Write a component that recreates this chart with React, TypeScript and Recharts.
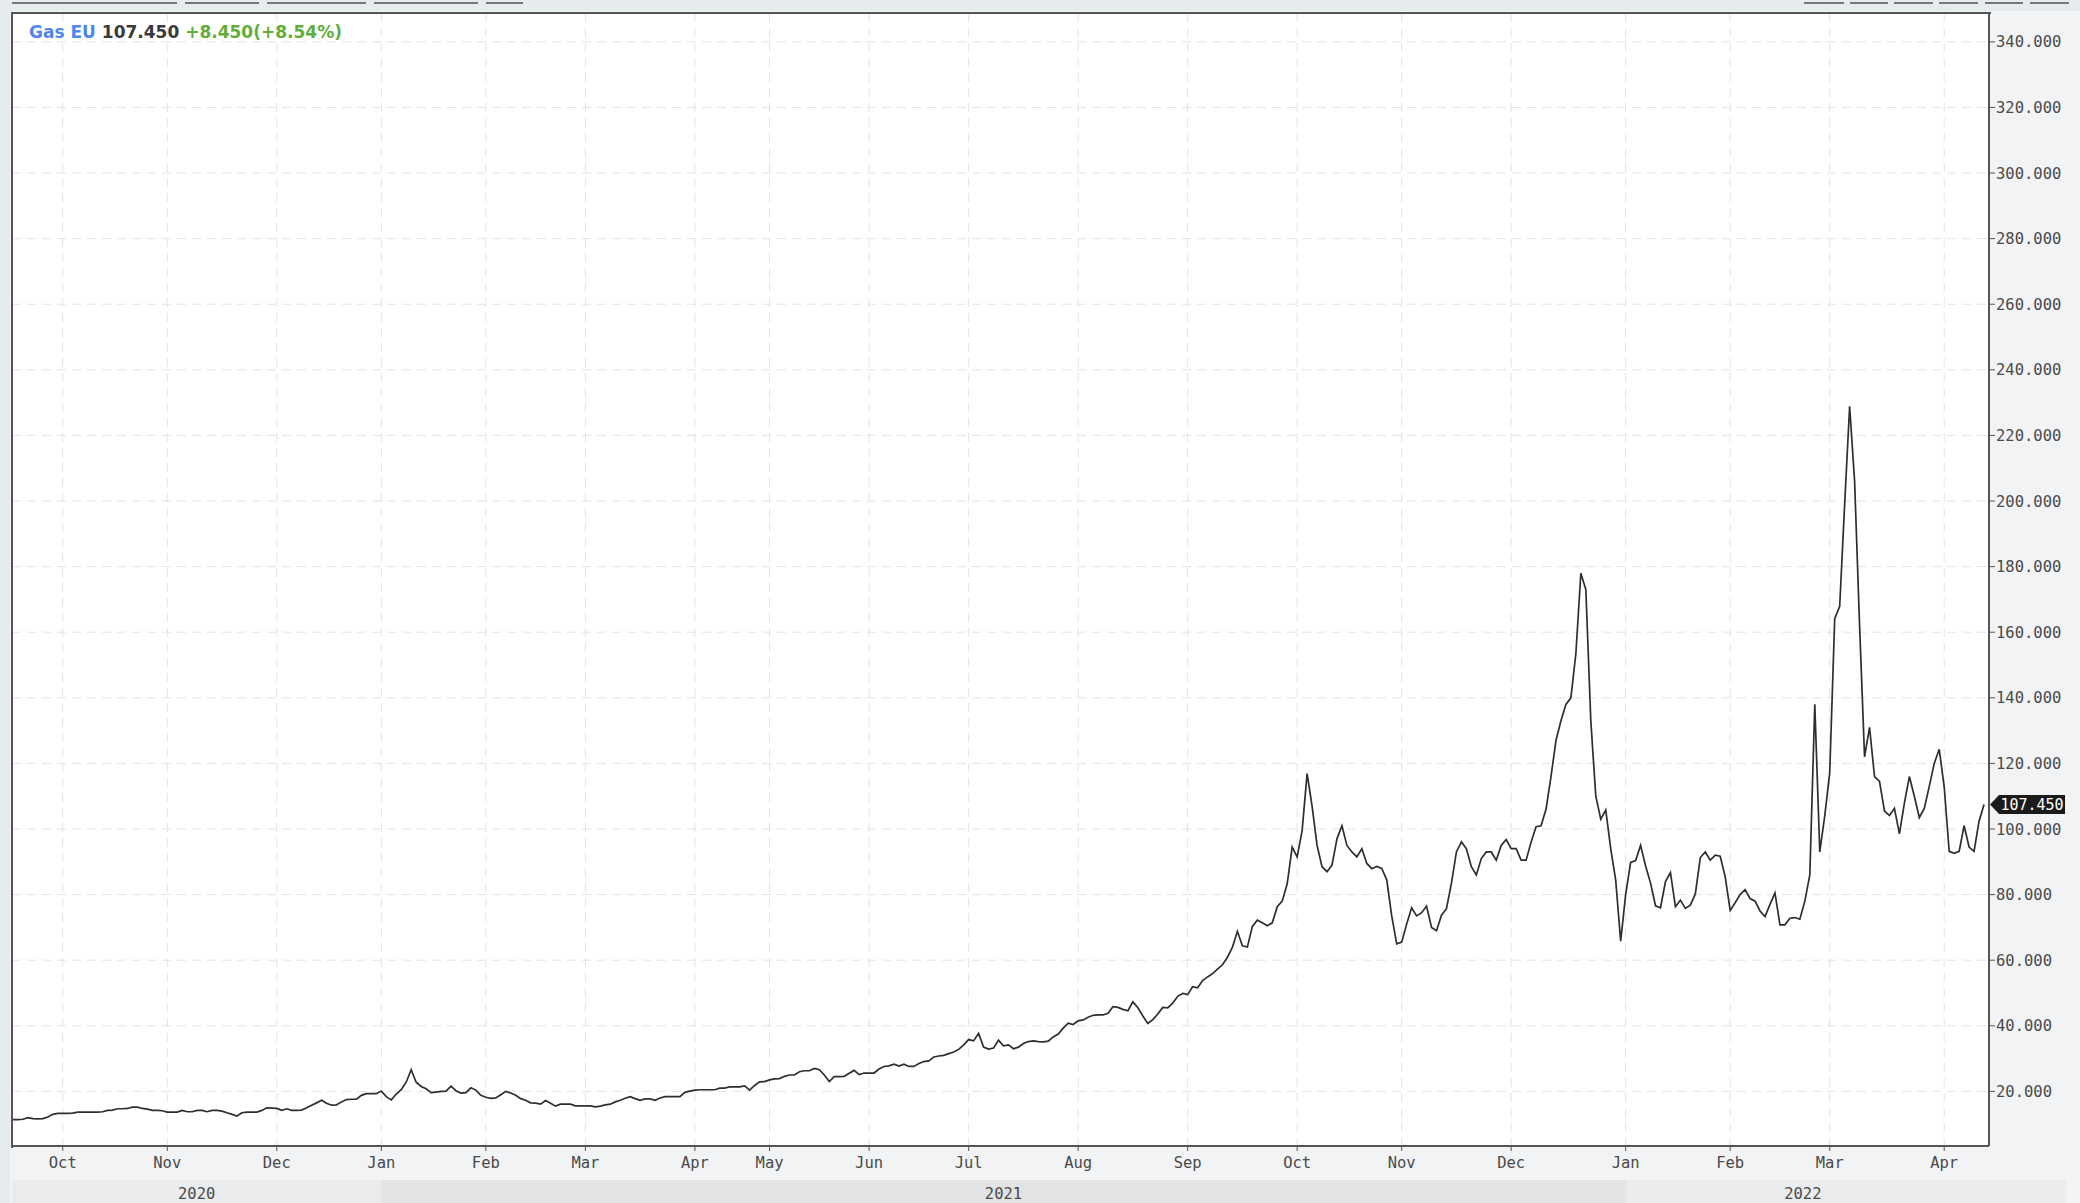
import React from "react";
import { LineChart, Line, XAxis, YAxis, CartesianGrid, ReferenceDot } from "recharts";

// Gas EU daily closes, one value per trading day, grouped by month
const sep2020 = [11.4, 11.4, 11.5, 12.0, 11.7, 11.6, 11.7, 12.2, 13.0, 13.3];
const oct2020 = [13.3, 13.3, 13.4, 13.7, 13.7, 13.7, 13.7, 13.7, 13.8, 14.2, 14.3, 14.7, 14.7, 14.8, 15.2, 15.2, 14.8, 14.6, 14.2, 14.2, 14.1];
const nov2020 = [13.7, 13.7, 13.7, 14.2, 13.8, 13.8, 14.2, 14.2, 13.8, 14.2, 14.2, 14.0, 13.5, 13.0, 12.5, 13.5, 13.7, 13.7, 13.7, 14.2, 15.0, 14.9];
const dec2020 = [14.8, 14.2, 14.7, 14.2, 14.2, 14.3, 15.0, 15.8, 16.5, 17.3, 16.4, 15.8, 15.9, 16.8, 17.5, 17.6, 17.6, 18.8, 19.3, 19.3, 19.3];
const jan2021 = [20.1, 18.4, 17.4, 19.2, 20.5, 22.8, 26.6, 22.8, 21.5, 20.8, 19.6, 19.8, 20.0, 20.1, 21.6, 20.2, 19.5, 19.6, 21.1, 20.4, 18.8];
const feb2021 = [18.2, 17.9, 18.0, 19.0, 20.0, 19.5, 18.8, 17.8, 17.3, 16.5, 16.4, 16.1, 17.2, 16.4, 15.5, 16.1, 16.1, 16.1, 15.6, 15.6];
const mar2021 = [15.6, 15.6, 15.3, 15.5, 15.9, 16.1, 16.8, 17.3, 17.9, 18.4, 17.8, 17.3, 17.7, 17.7, 17.3, 18.0, 18.4, 18.4, 18.4, 18.4, 19.7, 20.1];
const apr2021 = [20.4, 20.5, 20.5, 20.5, 20.5, 21.0, 21.0, 21.4, 21.4, 21.4, 21.7, 20.4, 21.8, 22.9, 23.0];
const may2021 = [23.5, 23.8, 23.9, 24.6, 25.0, 25.0, 26.0, 26.3, 26.3, 27.0, 26.6, 25.0, 23.0, 24.5, 24.5, 24.6, 25.5, 26.4, 25.1, 25.6];
const jun2021 = [25.6, 25.6, 26.8, 27.6, 27.8, 28.3, 27.7, 28.3, 27.6, 27.6, 28.5, 29.1, 29.3, 30.5, 30.8, 31.0, 31.5, 32.0, 32.8, 34.2];
const jul2021 = [35.8, 35.4, 37.7, 33.5, 32.9, 33.2, 35.6, 33.9, 34.2, 33.0, 33.5, 34.6, 35.2, 35.4, 35.2, 35.1, 35.3, 36.6, 37.5, 39.3, 40.8, 40.4];
const aug2021 = [41.5, 41.8, 42.6, 43.2, 43.3, 43.3, 43.8, 45.8, 45.6, 45.0, 44.6, 47.3, 45.5, 43.0, 40.7, 41.9, 43.6, 45.6, 45.5, 46.9, 49.0, 49.9];
const sep2021 = [49.5, 51.9, 51.6, 53.8, 54.9, 55.9, 57.3, 58.6, 60.9, 64.0, 68.8, 64.4, 64.0, 70.3, 72.2, 71.4, 70.5, 71.4, 76.3, 78.0, 83.3, 94.5];
const oct2021 = [91.5, 99.5, 116.9, 107.0, 95.0, 88.5, 87.0, 89.0, 97.0, 101.0, 95.0, 93.0, 91.5, 94.0, 89.5, 87.9, 88.6, 88.0, 84.5, 73.5, 65.0];
const nov2021 = [65.5, 71.0, 76.0, 73.5, 74.5, 76.5, 70.0, 69.0, 73.7, 75.7, 83.5, 93.0, 96.1, 94.0, 88.5, 86.0, 91.0, 93.0, 93.0, 90.5, 95.0, 96.8];
const dec2021 = [94.0, 94.0, 90.5, 90.5, 96.0, 100.7, 101.0, 106.0, 116.0, 127.0, 133.0, 138.0, 140.0, 153.5, 178.0, 173.0, 133.0, 110.0, 103.0, 105.8, 94.0, 84.4, 65.8];
const jan2022 = [80.0, 89.8, 90.4, 95.0, 88.8, 83.5, 76.6, 76.0, 84.0, 86.7, 76.3, 78.3, 75.8, 76.8, 80.2, 91.3, 93.0, 90.5, 92.0, 91.7, 85.4];
const feb2022 = [75.2, 77.5, 80.0, 81.5, 78.8, 78.0, 75.0, 73.3, 77.0, 80.5, 70.8, 70.8, 72.8, 73.0, 72.5, 78.0, 86.0, 138.0, 93.0, 104.0];
const mar2022 = [117.2, 164.1, 167.9, 199.0, 228.9, 206.0, 162.0, 122.0, 131.0, 116.0, 114.5, 105.5, 104.1, 106.3, 98.5, 107.9, 116.0, 110.0, 103.5, 106.3, 113.0, 120.0, 124.3];
const apr2022 = [112.8, 93.2, 92.6, 93.2, 101.0, 94.5, 93.2, 102.4, 107.45];

const monthSeries = [
  sep2020, oct2020, nov2020, dec2020, jan2021, feb2021, mar2021, apr2021, may2021, jun2021,
  jul2021, aug2021, sep2021, oct2021, nov2021, dec2021, jan2022, feb2022, mar2022, apr2022,
];
const monthLabels = [
  "Sep", "Oct", "Nov", "Dec", "Jan", "Feb", "Mar", "Apr", "May", "Jun",
  "Jul", "Aug", "Sep", "Oct", "Nov", "Dec", "Jan", "Feb", "Mar", "Apr",
];
const yearLabels = ["2020", "2021", "2022"];
const yearStartMonth = [0, 4, 16]; // index into monthSeries where each year begins

const yTicks = [20, 40, 60, 80, 100, 120, 140, 160, 180, 200, 220, 240, 260, 280, 300, 320, 340];

const legendName = "Gas EU";
const legendChange = "+8.450(+8.54%)";

// build the table: one row per trading day
const monthStart: number[] = [];
const data: { i: number; price: number }[] = [];
monthSeries.forEach((m) => {
  monthStart.push(data.length);
  m.forEach((p) => data.push({ i: data.length, price: p }));
});
const last = data[data.length - 1];
const monthTicks = monthStart.slice(1);
const tickLabel: Record<number, string> = {};
monthStart.forEach((s, k) => (tickLabel[s] = monthLabels[k]));

// layout
const W = 2080;
const H = 1203;
const PLOT_L = 12;
const PLOT_T = 13;
const PLOT_R = 1989;
const PLOT_B = 1146;
const X_MIN = -0.2;
const X_MAX = 397;
const xOf = (i: number) => PLOT_L + ((i - X_MIN) * (PLOT_R - PLOT_L)) / (X_MAX - X_MIN);

const MONO = "'DejaVu Sans Mono', monospace";
const AXIS_TEXT = "#4a4a4a";

const PriceTag = (props: any) => {
  const { cx, cy } = props;
  if (cx == null || cy == null) return null;
  return (
    <g>
      <path
        d={`M${cx + 6},${cy} L${cx + 15},${cy - 9.5} H${cx + 81} V${cy + 9.5} H${cx + 15} Z`}
        fill="#1b1b1b"
      />
      <text
        x={cx + 48}
        y={cy}
        dy="0.36em"
        textAnchor="middle"
        fill="#ffffff"
        fontSize={15}
        fontFamily={MONO}
      >
        {last.price.toFixed(3)}
      </text>
    </g>
  );
};

const topDashes = [
  [12, 177], [185, 259], [267, 366], [374, 478], [486, 523],
  [1804, 1844], [1850, 1888], [1894, 1933], [1939, 1978], [1985, 2023], [2030, 2069],
];

export default function App() {
  const yearBands = yearLabels.map((label, k) => {
    const from = k === 0 ? PLOT_L : xOf(monthStart[yearStartMonth[k]]);
    const to = k === yearLabels.length - 1 ? 2066 : xOf(monthStart[yearStartMonth[k + 1]]);
    const textTo = Math.min(to, xOf(last.i) - 4);
    return { label, from, to, center: (from + textTo) / 2, shade: k % 2 === 1 };
  });

  return (
    <div
      style={{
        position: "relative",
        width: W,
        height: H,
        background: "#f2f3f5",
        overflow: "hidden",
        fontFamily: "'DejaVu Sans', sans-serif",
      }}
    >
      <style>{`body{margin:0}`}</style>

      {/* top scroller strip and left edge */}
      <div style={{ position: "absolute", left: 0, top: 0, width: W, height: 11, background: "#e6ebee" }} />
      <div style={{ position: "absolute", left: 0, top: 0, width: 10, height: H, background: "#e6ebee" }} />
      {topDashes.map(([a, b], k) => (
        <div
          key={k}
          style={{ position: "absolute", left: a, top: 2, width: b - a, height: 2, background: "#777" }}
        />
      ))}

      {/* year band under the month axis */}
      {yearBands.map((b) => (
        <div
          key={b.label}
          style={{
            position: "absolute",
            left: b.from,
            top: 1180,
            width: b.to - b.from,
            height: 23,
            background: b.shade ? "#e2e3e5" : "#eaebec",
          }}
        />
      ))}
      {yearBands.map((b) => (
        <div
          key={b.label + "t"}
          style={{
            position: "absolute",
            left: b.center - 40,
            width: 80,
            top: 1185,
            textAlign: "center",
            fontFamily: MONO,
            fontSize: 15.5,
            lineHeight: "18px",
            color: AXIS_TEXT,
          }}
        >
          {b.label}
        </div>
      ))}

      <div style={{ position: "absolute", left: 0, top: 0 }}>
        <LineChart
          width={W}
          height={H}
          data={data}
          margin={{ top: PLOT_T, left: PLOT_L, right: 0, bottom: 0 }}
        >
          <CartesianGrid stroke="#e3e3e3" strokeDasharray="9 6" fill="#ffffff" />
          <XAxis
            dataKey="i"
            type="number"
            domain={[X_MIN, X_MAX]}
            ticks={monthTicks}
            tickFormatter={(v: number) => tickLabel[v] ?? ""}
            height={H - PLOT_B}
            axisLine={{ stroke: "#555", strokeWidth: 2 }}
            tickLine={{ stroke: "#555" }}
            tickSize={5}
            tickMargin={6}
            interval={0}
            allowDataOverflow
            tick={{ fill: AXIS_TEXT, fontSize: 15.5, fontFamily: MONO }}
          />
          <YAxis
            orientation="right"
            type="number"
            domain={[3.35, 348.8]}
            ticks={yTicks}
            width={W - PLOT_R}
            allowDataOverflow
            interval={0}
            tickFormatter={(v: number) => v.toFixed(3)}
            axisLine={{ stroke: "#555", strokeWidth: 2 }}
            tickLine={{ stroke: "#555" }}
            tickSize={6}
            tickMargin={1}
            tick={{ fill: AXIS_TEXT, fontSize: 15.5, fontFamily: MONO, textAnchor: "start" }}
          />
          <Line
            type="linear"
            dataKey="price"
            stroke="#2e2e2e"
            strokeWidth={1.7}
            dot={false}
            isAnimationActive={false}
          />
          <ReferenceDot
            x={last.i}
            y={last.price}
            r={0}
            ifOverflow="visible"
            shape={PriceTag}
          />
        </LineChart>
      </div>

      {/* top and left plot border */}
      <div
        style={{
          position: "absolute",
          left: PLOT_L - 1,
          top: PLOT_T - 1,
          width: PLOT_R - PLOT_L + 1,
          height: PLOT_B - PLOT_T + 1,
          borderTop: "2px solid #555",
          borderLeft: "2px solid #555",
          pointerEvents: "none",
        }}
      />

      {/* legend */}
      <div
        style={{
          position: "absolute",
          left: 29,
          top: 22,
          fontSize: 17,
          fontWeight: "bold",
          lineHeight: "21px",
          whiteSpace: "nowrap",
        }}
      >
        <span style={{ color: "#4f86f0" }}>{legendName}</span>{" "}
        <span style={{ color: "#3a3a3a" }}>{last.price.toFixed(3)}</span>{" "}
        <span style={{ color: "#62ad3c" }}>{legendChange}</span>
      </div>
    </div>
  );
}
